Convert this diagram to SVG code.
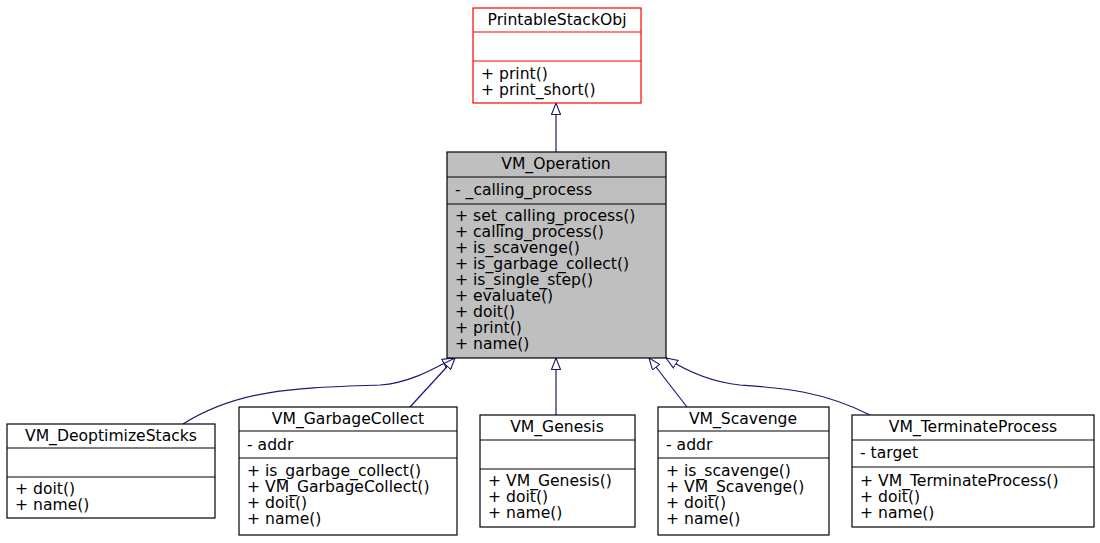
<svg xmlns="http://www.w3.org/2000/svg" width="1100" height="543" viewBox="0 0 1100 543">
<defs>
<style>
text{font-family:"DejaVu Sans","Liberation Sans",sans-serif;font-size:15.6px;fill:#000}
.t{text-anchor:middle}
.b{fill:#fff;stroke:#000;stroke-width:1.2}
.l{stroke:#000;stroke-width:1.2}
.e{fill:none;stroke:#191970;stroke-width:1.2}
</style>
<marker id="tri" viewBox="0 0 12 10" refX="12" refY="5" markerWidth="12" markerHeight="10" markerUnits="userSpaceOnUse" orient="auto">
<path d="M0.5,0.5 L12,5 L0.5,9.5 Z" fill="#fff" stroke="#191970" stroke-width="1.1"/>
</marker>
</defs>
<rect width="1100" height="543" fill="#fff"/>
<g id="connectors">
<path class="e" d="M556,152 L556,103" marker-end="url(#tri)"/>
<path class="e" d="M183,424 C240,388 300,388 380,385 C410,383 435,368 454,358" marker-end="url(#tri)"/>
<path class="e" d="M410,407 L455,358" marker-end="url(#tri)"/>
<path class="e" d="M556,415 L556,358" marker-end="url(#tri)"/>
<path class="e" d="M687,407 L649,358" marker-end="url(#tri)"/>
<path class="e" d="M870,415 C820,390 780,388 740,385 C710,382 685,370 666,358" marker-end="url(#tri)"/>
</g>
<g id="PrintableStackObj">
<rect class="b" x="473" y="8" width="168" height="95" style="stroke:#f00"/>
<line class="l" x1="473" y1="32" x2="641" y2="32" style="stroke:#f00"/>
<line class="l" x1="473" y1="61" x2="641" y2="61" style="stroke:#f00"/>
<text class="t" x="557" y="25">PrintableStackObj</text>
<text x="481" y="79">+ print()</text>
<text x="481" y="95">+ print_short()</text>
</g>
<g id="VM_Operation">
<rect x="447" y="152" width="219" height="206" fill="#bfbfbf" stroke="#000" stroke-width="1.2"/>
<line class="l" x1="447" y1="177" x2="666" y2="177"/>
<line class="l" x1="447" y1="204" x2="666" y2="204"/>
<text class="t" x="556" y="169">VM_Operation</text>
<text x="455" y="195">- _calling_process</text>
<text x="455" y="221">+ set_calling_process()</text>
<text x="455" y="237">+ calling_process()</text>
<text x="455" y="253">+ is_scavenge()</text>
<text x="455" y="269">+ is_garbage_collect()</text>
<text x="455" y="285">+ is_single_step()</text>
<text x="455" y="301">+ evaluate()</text>
<text x="455" y="317">+ doit()</text>
<text x="455" y="333">+ print()</text>
<text x="455" y="349">+ name()</text>
</g>
<g id="VM_DeoptimizeStacks">
<rect class="b" x="7" y="424" width="208" height="94"/>
<line class="l" x1="7" y1="448" x2="215" y2="448"/>
<line class="l" x1="7" y1="477" x2="215" y2="477"/>
<text class="t" x="111" y="441">VM_DeoptimizeStacks</text>
<text x="15" y="494">+ doit()</text>
<text x="15" y="510">+ name()</text>
</g>
<g id="VM_GarbageCollect">
<rect class="b" x="239" y="407" width="218" height="128"/>
<line class="l" x1="239" y1="431" x2="457" y2="431"/>
<line class="l" x1="239" y1="458" x2="457" y2="458"/>
<text class="t" x="348" y="424">VM_GarbageCollect</text>
<text x="247" y="450">- addr</text>
<text x="247" y="476">+ is_garbage_collect()</text>
<text x="247" y="492">+ VM_GarbageCollect()</text>
<text x="247" y="508">+ doit()</text>
<text x="247" y="524">+ name()</text>
</g>
<g id="VM_Genesis">
<rect class="b" x="480" y="415" width="155" height="112"/>
<line class="l" x1="480" y1="440" x2="635" y2="440"/>
<line class="l" x1="480" y1="469" x2="635" y2="469"/>
<text class="t" x="557" y="432">VM_Genesis</text>
<text x="488" y="486">+ VM_Genesis()</text>
<text x="488" y="502">+ doit()</text>
<text x="488" y="518">+ name()</text>
</g>
<g id="VM_Scavenge">
<rect class="b" x="658" y="407" width="171" height="128"/>
<line class="l" x1="658" y1="431" x2="829" y2="431"/>
<line class="l" x1="658" y1="458" x2="829" y2="458"/>
<text class="t" x="743" y="424">VM_Scavenge</text>
<text x="666" y="450">- addr</text>
<text x="666" y="476">+ is_scavenge()</text>
<text x="666" y="492">+ VM_Scavenge()</text>
<text x="666" y="508">+ doit()</text>
<text x="666" y="524">+ name()</text>
</g>
<g id="VM_TerminateProcess">
<rect class="b" x="852" y="415" width="242" height="112"/>
<line class="l" x1="852" y1="440" x2="1094" y2="440"/>
<line class="l" x1="852" y1="467" x2="1094" y2="467"/>
<text class="t" x="973" y="432">VM_TerminateProcess</text>
<text x="860" y="458">- target</text>
<text x="860" y="486">+ VM_TerminateProcess()</text>
<text x="860" y="502">+ doit()</text>
<text x="860" y="518">+ name()</text>
</g>
</svg>
